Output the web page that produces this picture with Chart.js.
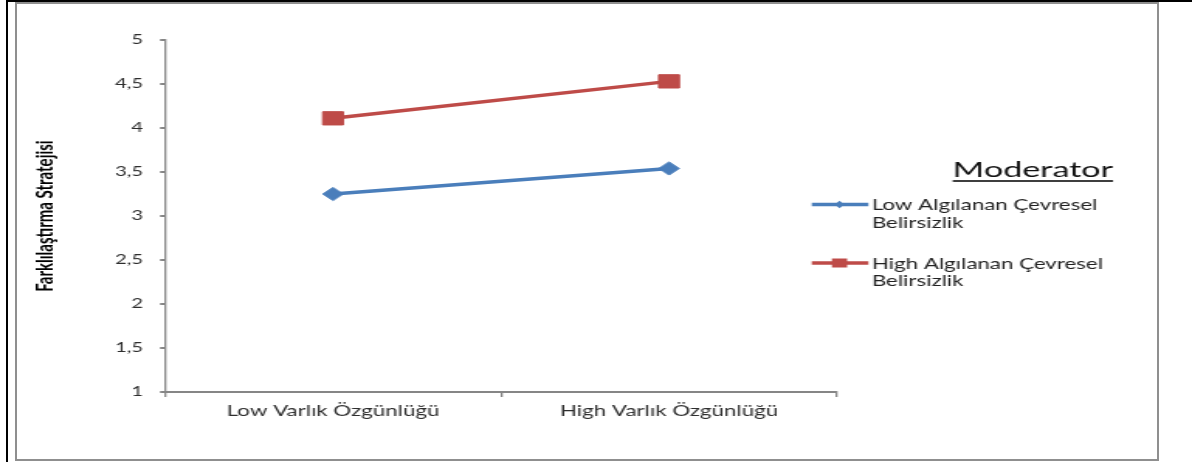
<!DOCTYPE html>
<html>
<head>
<meta charset="utf-8">
<title>Farklılaştırma Stratejisi</title>
<script src="https://cdn.jsdelivr.net/npm/chart.js@4/dist/chart.umd.min.js"></script>
<style>
  html, body { margin: 0; padding: 0; background: #fff; }
  #page { position: relative; width: 1192px; height: 462px; overflow: hidden; background: #fff; }
  /* the chart is laid out narrow and widened horizontally */
  #stage { position: absolute; left: 0; top: 0; width: 769px; height: 462px;
           transform: scaleX(1.55007); transform-origin: 0 0; }
  #stage canvas { display: block; }
  .rule { position: absolute; }
</style>
</head>
<body>
<div id="page">
  <div id="stage"><canvas id="chart" width="769" height="462"></canvas></div>
  <!-- outer frame -->
  <div class="rule" style="left:6px;top:0;width:2px;height:462px;background:#000"></div>
  <div class="rule" style="left:6px;top:0;width:1186px;height:2px;background:#000"></div>
  <!-- chart border -->
  <div class="rule" style="left:15px;top:2px;width:1144px;height:459px;border:2px solid #8f8f8f;box-sizing:border-box"></div>
</div>
<script>
// categories and series
const categories = ['Low Varlık Özgünlüğü', 'High Varlık Özgünlüğü'];
const lowUncertainty = [3.25, 3.54];
const highUncertainty = [4.11, 4.53];
const seriesLines = [
  ['Low Algılanan Çevresel', 'Belirsizlik'],
  ['High Algılanan Çevresel', 'Belirsizlik']
];
const legendTitle = 'Moderator';
const yTitle = 'Farklılaştırma Stratejisi';

// y axis ticks (comma decimals)
const yTickValues = [1, 1.5, 2, 2.5, 3, 3.5, 4, 4.5, 5];
const yTickLabels = ['1', '1,5', '2', '2,5', '3', '3,5', '4', '4,5', '5'];

const BLUE = '#4a7ebb';
const RED = '#be4b48';
const AXIS = '#868686';
const TEXT = '#2e2e2e';

// legend with a title and two-line entries, drawn at the right of the plot
const sideLegend = {
  id: 'sideLegend',
  afterDraw(chart) {
    const ctx = chart.ctx;
    ctx.save();
    // title, underlined
    ctx.font = '22px Lato';
    ctx.fillStyle = '#111';
    ctx.textBaseline = 'alphabetic';
    ctx.textAlign = 'left';
    const tx = 614.6, ty = 177;
    ctx.fillText(legendTitle, tx, ty);
    const tw = ctx.measureText(legendTitle).width;
    ctx.fillRect(tx, 180.2, tw, 1.6);

    const rows = [
      { y: 204.5, base: [210, 227.5] },
      { y: 263, base: [268.5, 286] }
    ];
    chart.data.datasets.forEach((ds, i) => {
      const r = rows[i];
      ctx.strokeStyle = ds.borderColor;
      ctx.lineWidth = 3.5;
      ctx.beginPath();
      ctx.moveTo(523.7, r.y);
      ctx.lineTo(560.2, r.y);
      ctx.stroke();
      ctx.fillStyle = ds.borderColor;
      const cx = 541.6;
      ctx.beginPath();
      if (ds.pointStyle === 'rectRot') {
        ctx.moveTo(cx - 3.1, r.y);
        ctx.lineTo(cx, r.y - 3.8);
        ctx.lineTo(cx + 3.1, r.y);
        ctx.lineTo(cx, r.y + 3.8);
        ctx.closePath();
      } else {
        ctx.rect(cx - 4.9, r.y - 4.5, 9.8, 9);
      }
      ctx.fill();
      ctx.fillStyle = '#222';
      ctx.font = '14.4px Lato';
      seriesLines[i].forEach((t, k) => ctx.fillText(t, 562.4, r.base[k]));
    });
    ctx.restore();
  }
};

new Chart(document.getElementById('chart'), {
  type: 'line',
  data: {
    labels: categories,
    datasets: [
      {
        label: seriesLines[0].join(' '),
        data: lowUncertainty,
        borderColor: BLUE,
        backgroundColor: BLUE,
        borderWidth: 3.5,
        pointStyle: 'rectRot',
        pointRadius: 6.6,
        pointBackgroundColor: BLUE,
        pointBorderColor: BLUE,
        pointBorderWidth: 1,
        tension: 0
      },
      {
        label: seriesLines[1].join(' '),
        data: highUncertainty,
        borderColor: RED,
        backgroundColor: RED,
        borderWidth: 3.5,
        pointStyle: 'rect',
        pointRadius: 9.4,
        pointBackgroundColor: RED,
        pointBorderColor: RED,
        pointBorderWidth: 1,
        tension: 0
      }
    ]
  },
  options: {
    responsive: false,
    animation: false,
    events: [],
    layout: { padding: { left: 0, top: 40, right: 229, bottom: 0 } },
    plugins: { legend: { display: false }, tooltip: { enabled: false } },
    scales: {
      x: {
        type: 'category',
        offset: true,
        grid: { display: true, offset: true, drawOnChartArea: false, drawTicks: true,
                tickLength: 5, color: AXIS, lineWidth: 1.3 },
        border: { display: true, color: AXIS, width: 2 },
        ticks: { font: { family: 'Lato', size: 14.4 }, color: TEXT, padding: 6,
                 maxRotation: 0, autoSkip: false },
        afterFit(s) { s.height = 70; }
      },
      y: {
        min: 1,
        max: 5,
        afterBuildTicks(s) { s.ticks = yTickValues.map(v => ({ value: v })); },
        grid: { display: true, drawOnChartArea: false, drawTicks: true,
                tickLength: 3.2, color: AXIS, lineWidth: 2 },
        border: { display: true, color: AXIS, width: 1.3 },
        ticks: {
          font: { family: 'Lato', size: 13 }, color: TEXT, padding: 11,
          callback(v) { const i = yTickValues.indexOf(v); return i >= 0 ? yTickLabels[i] : ''; }
        },
        title: { display: true, text: yTitle, color: '#000',
                 font: { family: 'Lato', size: 15, weight: 'bold' },
                 padding: { top: 20, bottom: 0 } },
        afterFit(s) { s.width = 106.45; }
      }
    }
  },
  plugins: [sideLegend]
});
</script>
</body>
</html>
